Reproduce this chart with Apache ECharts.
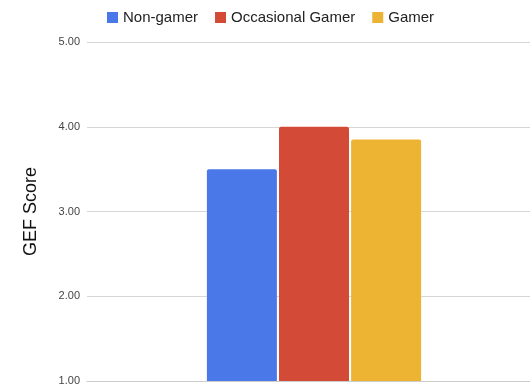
<!DOCTYPE html>
<html>
<head>
<meta charset="utf-8">
<script src="https://cdn.jsdelivr.net/npm/echarts@6/dist/echarts.min.js"></script>
<style>
  html, body { margin: 0; padding: 0; background: #fff; }
  #chart { width: 530px; height: 392px; }
</style>
</head>
<body>
<div id="chart"></div>
<script>
// GEF score by gaming group
const categories = ['GEF'];
const seriesNames = ['Non-gamer', 'Occasional Gamer', 'Gamer'];
const nonGamer = [3.50];
const occasionalGamer = [4.00];
const gamer = [3.85];
const colors = ['#4a78e8', '#d34b36', '#edb433'];
const yTicks = [1, 2, 3, 4, 5];

const seriesValues = [nonGamer, occasionalGamer, gamer];
const font = '"Liberation Sans", Arial, sans-serif';

const chart = echarts.init(document.getElementById('chart'), null, { renderer: 'canvas' });
chart.setOption({
  animation: false,
  textStyle: { fontFamily: font },
  color: colors,
  legend: {
    top: 5,
    left: 102,
    itemWidth: 11,
    itemHeight: 11,
    itemGap: 17,
    icon: 'rect',
    textStyle: { fontSize: 15, color: '#222', fontFamily: font },
    data: seriesNames
  },
  // the plot area runs a little past the right edge of the canvas
  grid: { left: 87, width: 454, top: 42, bottom: 11, containLabel: false, outerBoundsMode: 'none' },
  xAxis: {
    type: 'category',
    data: categories,
    axisLine: { lineStyle: { color: '#ccc' } },
    axisTick: { show: false },
    axisLabel: { show: false }
  },
  yAxis: {
    type: 'value',
    min: yTicks[0],
    max: yTicks[yTicks.length - 1],
    interval: 1,
    name: 'GEF Score',
    nameLocation: 'middle',
    nameGap: 47,
    nameRotate: 90,
    nameTextStyle: { fontSize: 18, color: '#111', fontFamily: font },
    axisLine: { show: false },
    axisTick: { show: false },
    axisLabel: {
      margin: 7,
      fontSize: 11,
      color: '#444',
      fontFamily: font,
      formatter: v => v.toFixed(2)
    },
    splitLine: { lineStyle: { color: '#d6d6d6', width: 1 } }
  },
  series: seriesNames.map((name, i) => ({
    name,
    type: 'bar',
    data: seriesValues[i],
    barWidth: 70,
    barGap: '3%',
    itemStyle: { color: colors[i], borderRadius: [2, 2, 0, 0] }
  }))
});
</script>
</body>
</html>
